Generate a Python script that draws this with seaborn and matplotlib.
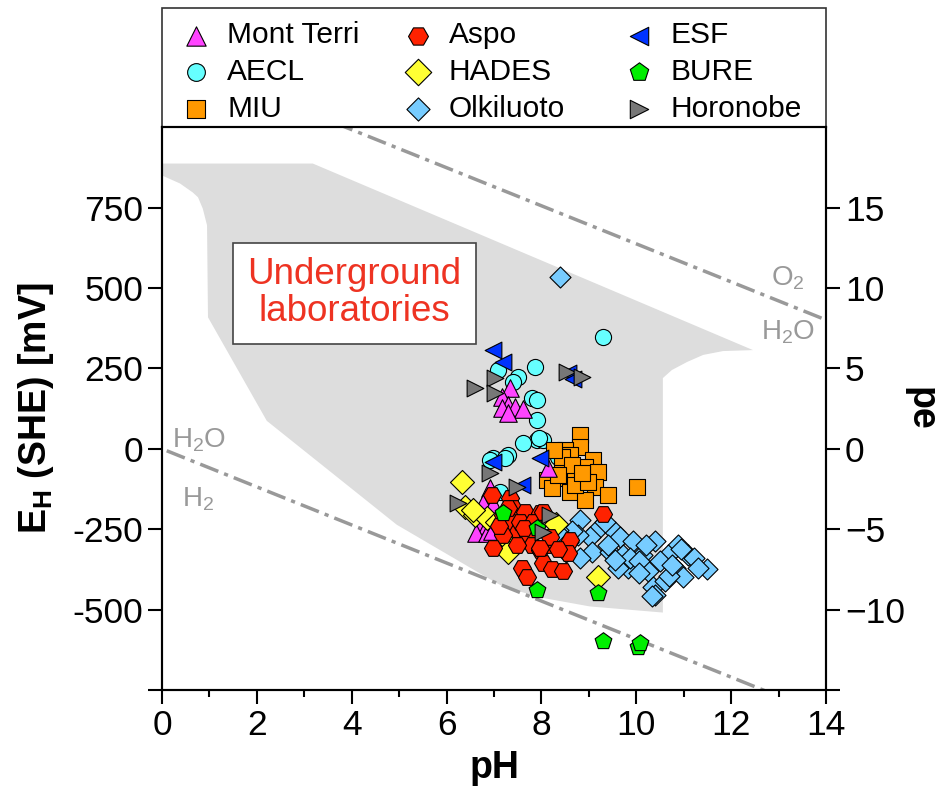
import numpy as np
import pandas as pd
import seaborn as sns
import matplotlib.pyplot as plt
from matplotlib.patches import Rectangle

# Eh (mV vs SHE) and pH of groundwaters from underground laboratories
mont_terri_ph = [7.34, 7.17, 7.30, 7.17, 7.44, 7.61, 7.30, 6.92, 6.77, 6.70, 6.85, 6.62, 6.85, 6.97, 6.95, 8.14]
mont_terri_eh = [189, 161, 136, 127, 130, 124, 112, -121, -167, -242, -236, -262, -262, -170, -255, -59]

aecl_ph = [7.86, 7.08, 7.51, 7.40, 7.80, 7.91, 7.91, 7.91, 8.03, 7.61, 7.30, 6.98, 9.30, 6.92, 7.23, 7.13, 8.35, 8.50, 7.95]
aecl_eh = [254, 245, 223, 208, 158, 152, 90, 28, 28, 19, -19, -28, 347, -34, -28, -133, -25, -15, 35]

miu_ph = [8.81, 8.81, 8.50, 8.60, 9.09, 8.92, 8.43, 9.19, 8.12, 8.54, 8.71, 8.22, 8.60, 9.13, 9.40, 8.92,
          10.01, 8.71, 8.98, 8.43, 8.65, 8.35, 8.85, 8.27]
miu_eh = [43, 6, -3, -19, -34, -56, -59, -71, -96, -90, -81, -121, -133, -118, -143, -158,
          -118, -112, -102, -25, -50, -80, -75, -5]

aspo_ph = [6.96, 7.34, 7.40, 7.65, 7.97, 7.19, 7.34, 7.51, 7.19, 6.98, 7.72, 7.80, 7.97, 8.18, 8.03, 8.22,
           8.45, 7.59, 7.70, 7.55, 7.82, 7.48, 9.30, 8.03, 8.18, 8.60, 8.56, 7.97, 7.63, 8.35, 7.30, 7.10]
aspo_eh = [-143, -152, -183, -195, -199, -205, -226, -257, -267, -307, -267, -298, -313, -298, -354, -375,
           -381, -369, -400, -226, -226, -298, -202, -195, -273, -282, -323, -307, -245, -310, -185, -240]

hades_ph = [6.32, 6.39, 6.60, 6.85, 7.06, 7.25, 7.34, 7.30, 9.19, 8.30, 6.55]
hades_eh = [-102, -180, -205, -215, -226, -265, -290, -320, -397, -235, -190]

olkiluoto_ph = [8.39, 8.81, 9.17, 9.55, 9.65, 9.02, 8.77, 8.64, 9.07, 8.81, 9.45, 9.72, 9.83, 9.62, 10.12,
                10.25, 10.39, 10.35, 10.39, 10.88, 10.67, 10.82, 10.99, 10.61, 11.09, 9.34, 9.93, 8.35,
                9.87, 10.05, 10.50, 11.49, 11.22, 10.70, 10.05, 9.40, 8.52, 8.42, 8.55, 10.95, 11.30,
                10.20, 9.55, 10.75, 10.33]
olkiluoto_eh = [533, -220, -251, -260, -273, -273, -267, -257, -320, -338, -320, -329, -369, -369, -329,
                -381, -288, -431, -453, -298, -329, -369, -400, -412, -329, -226, -288, -251,
                -340, -350, -350, -375, -340, -395, -385, -300, -320, -270, -290, -310, -370,
                -300, -345, -360, -459]

esf_ph = [6.98, 7.19, 8.56, 8.67, 6.98, 7.59, 7.97]
esf_eh = [307, 270, 236, 217, -40, -112, -28]

bure_ph = [7.19, 7.91, 7.91, 9.19, 9.30, 10.04, 10.08]
bure_eh = [-200, -245, -440, -447, -599, -617, -605]

horonobe_ph = [6.60, 7.02, 7.02, 8.54, 8.86, 6.24, 6.92, 7.48, 8.18, 8.04]
horonobe_eh = [189, 220, 174, 239, 223, -167, -74, -118, -205, -260]

# outline of the shaded "underground laboratories" field
region_ph = [0, 3.18, 12.46, 11.83, 11.41, 11.07, 10.75, 10.56, 10.56, 9.02, 7.97, 7.19, 6.92, 4.95,
             2.21, 0.97, 0.95, 0.86, 0.76, 0.65, 0.38, 0]
region_eh = [887, 887, 307, 304, 292, 270, 245, 220, -509, -490, -462, -428, -406, -236,
             87, 409, 695, 747, 782, 797, 825, 850]

# water stability limits: Eh = a - b * pH
o2_h2o_a, h2o_h2_a, nernst_b = 1229, 0, 59.16

sites = [
    ('Mont Terri', mont_terri_ph, mont_terri_eh, '^', '#ff44ff', 160, 5),
    ('AECL', aecl_ph, aecl_eh, 'o', '#66ffff', 135, 3),
    ('MIU', miu_ph, miu_eh, 's', '#ff9900', 145, 4),
    ('Aspo', aspo_ph, aspo_eh, 'H', '#ff2200', 170, 6),
    ('HADES', hades_ph, hades_eh, 'D', '#ffff33', 150, 5.5),
    ('Olkiluoto', olkiluoto_ph, olkiluoto_eh, 'D', '#77ccff', 115, 2),
    ('ESF', esf_ph, esf_eh, '<', '#0033ff', 145, 8),
    ('BURE', bure_ph, bure_eh, 'p', '#00ee00', 160, 7),
    ('Horonobe', horonobe_ph, horonobe_eh, '>', '#777777', 145, 9),
]

sns.set_style('ticks')
plt.rcParams['font.family'] = ['Liberation Sans', 'DejaVu Sans']
plt.rcParams['axes.linewidth'] = 1.5
for key in ['text.color', 'axes.labelcolor', 'xtick.color', 'ytick.color', 'axes.edgecolor']:
    plt.rcParams[key] = 'black'

fig = plt.figure(figsize=(9.5, 7.95), dpi=100)
ax = fig.add_axes([0.1705, 0.132, 0.699, 0.708])

ax.fill(region_ph, region_eh, color='#dddddd', lw=0, zorder=0)

ph = np.array([0.1, 14])
dash = (0, (5.6, 1.8, 1.2, 1.8))
ax.plot(ph, o2_h2o_a - nernst_b * ph, color='#999999', lw=2.5, ls=dash, zorder=1)
ax.plot(ph, h2o_h2_a - nernst_b * ph, color='#999999', lw=2.5, ls=dash, zorder=1)

for name, x, y, m, c, s, z in sites:
    sns.scatterplot(x=x, y=y, marker=m, color=c, s=s, edgecolor='black', linewidth=0.8,
                    label=name, zorder=z, ax=ax)

gray_txt = dict(color='#999999', fontsize=20, ha='center', va='center')
ax.text(13.2, 530, r'O$_\mathregular{2}$', **gray_txt)
ax.text(13.2, 363, r'H$_\mathregular{2}$O', **gray_txt)
ax.text(0.78, 28, r'H$_\mathregular{2}$O', **gray_txt)
ax.text(0.76, -155, r'H$_\mathregular{2}$', **gray_txt)

ax.text(4.06, 484, 'Underground\nlaboratories', color='#ee3322', fontsize=26.5, ha='center', va='center',
        linespacing=1.05,
        bbox=dict(boxstyle='square,pad=0.4', fc='white', ec='#444444', lw=1.2))

ax.set_xlim(0, 14)
ax.set_ylim(-750, 1000)
ax.set_xticks(range(0, 15, 2))
ax.set_xticks(range(1, 14, 2), minor=True)
yt = [-750, -500, -250, 0, 250, 500, 750]
ax.set_yticks(yt, labels=[''] + [str(v) for v in yt[1:]])
ax.tick_params(which='major', length=10, width=1.5, labelsize=25.5, direction='out')
ax.tick_params(which='minor', length=5, width=1.5, direction='out')
ax.set_xlabel('pH', fontsize=27, fontweight='bold', labelpad=6)
ax.set_ylabel(r'E$_\mathregular{H}$ (SHE) [mV]', fontsize=27, fontweight='bold', labelpad=12)

ax2 = ax.twinx()
ax2.set_ylim(-15, 20)
pe_ticks = list(range(-15, 16, 5))
ax2.set_yticks(pe_ticks, labels=[''] + [str(v).replace('-', '\u2212') for v in pe_ticks[1:]])
ax2.tick_params(length=10, width=1.5, labelsize=25.5, direction='out')
ax2.set_ylabel('pe', fontsize=27, fontweight='bold', rotation=270, labelpad=24)

# legend box above the axes: three equal-width columns
ax.add_patch(Rectangle((0, 1), 1, 0.2114, transform=ax.transAxes, clip_on=False,
                       fc='white', ec='#333333', lw=1.2, zorder=0))
handles, labels = ax.get_legend_handles_labels()
for k in range(3):
    leg = ax.legend(handles[3 * k:3 * k + 3], labels[3 * k:3 * k + 3], loc='center left',
                    bbox_to_anchor=(0.0151 + k * 0.3339, 1.0975), borderaxespad=0, borderpad=0,
                    frameon=False, fontsize=21.5, handlelength=1.6, handletextpad=0.25,
                    labelspacing=0.3, markerscale=1.1, scatterpoints=1)
    if k < 2:
        ax.add_artist(leg)

fig.savefig('out.png', dpi=100)
